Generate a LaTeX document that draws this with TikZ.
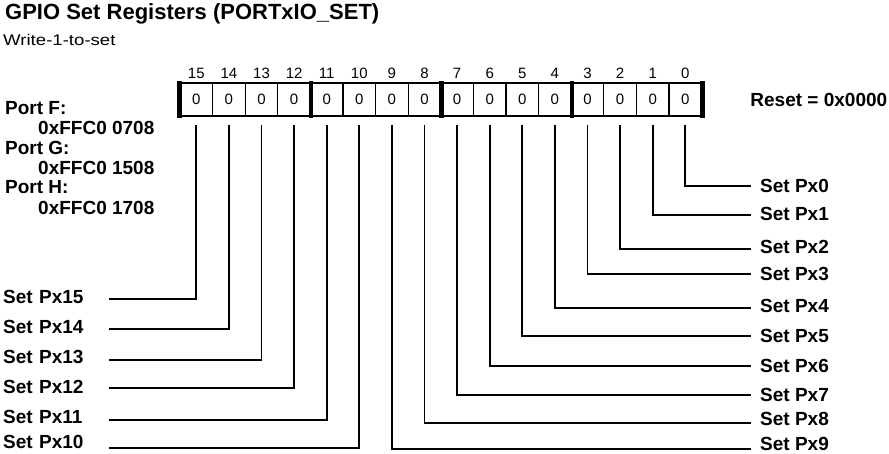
\documentclass[tikz,border=0pt]{standalone}
\usepackage{fontspec}
\setmainfont{Liberation Sans}
\usepackage{graphicx}
\usetikzlibrary{positioning}

\begin{document}
\begin{tikzpicture}[x=1pt, y=-1pt,
    cell/.style={draw=black, line width=1.3pt, minimum width=32.6pt, minimum height=33pt,
    inner sep=0pt, font=\fontsize{15}{18}\selectfont},
    bitnum/.style={inner sep=0pt, font=\fontsize{15}{18}\selectfont},
    sepbar/.style={line width=4.5pt, shorten <=-1.5pt, shorten >=-1.5pt},
    lbl/.style={inner sep=0pt, font=\fontsize{19}{22}\selectfont\bfseries},
    rlbl/.style={lbl, anchor=west, inner xsep=9pt},
    llbl/.style={lbl, anchor=west, text width=106pt, align=left},
    wire/.style={line width=1.8pt}]
\useasboundingbox (0,0) rectangle (889,453);
\node[anchor=west, inner sep=0pt, font=\fontsize{22}{26}\selectfont\bfseries] (title) at (5,14) {GPIO Set Registers (PORTxIO\_SET)};
\node[anchor=west, inner sep=0pt, font=\fontsize{15.5}{18}\selectfont] (subtitle) at (3,40) {\scalebox{1.2}[1]{Write-1-to-set}};
\foreach \i in {0,...,15} {
  \node[cell] (c\i) at ({685.3-\i*32.6},99.5) {0};
  \node[bitnum, above=4pt of c\i] (b\i) {\i};
}
\foreach \k in {0,4,8,12} {
  \draw[sepbar] (c\k.north east) -- (c\k.south east);
}
\draw[sepbar] (c15.north west) -- (c15.south west);
\node[lbl, right=48pt of c0] (reset) {Reset = 0x0000};
\foreach \p/\a/\y in {F/0708/108, G/1508/148, H/1708/187.5} {
  \node[lbl, anchor=west] (port\p) at (5,\y) {Port \p:};
  \node[lbl, anchor=west] (addr\p) at (38,\y+20) {0xFFC0 \a};
}
\foreach \i/\y/\d in {0/185.7/0, 1/215/2, 2/249/4, 3/274.3/0, 4/307.7/4, 5/336/0, 6/366/0, 7/395/0, 8/423.3/8, 9/449/11} {
  \node[rlbl, text depth=\d pt] (s\i) at (751,\y) {Set Px\i};
  \draw[wire] ([yshift=-8pt]c\i.south) |- (s\i);
}
\foreach \i/\y/\d in {10/448.3/12, 11/420/6.6, 12/388.3/2, 13/360/6.6, 14/329.3/5.2, 15/299/4.6} {
  \node[llbl, text depth=\d pt] (s\i) at (3,\y) {Set Px\i};
  \draw[wire] (s\i) -| ([yshift=-8pt]c\i.south);
}
\end{tikzpicture}
\end{document}
